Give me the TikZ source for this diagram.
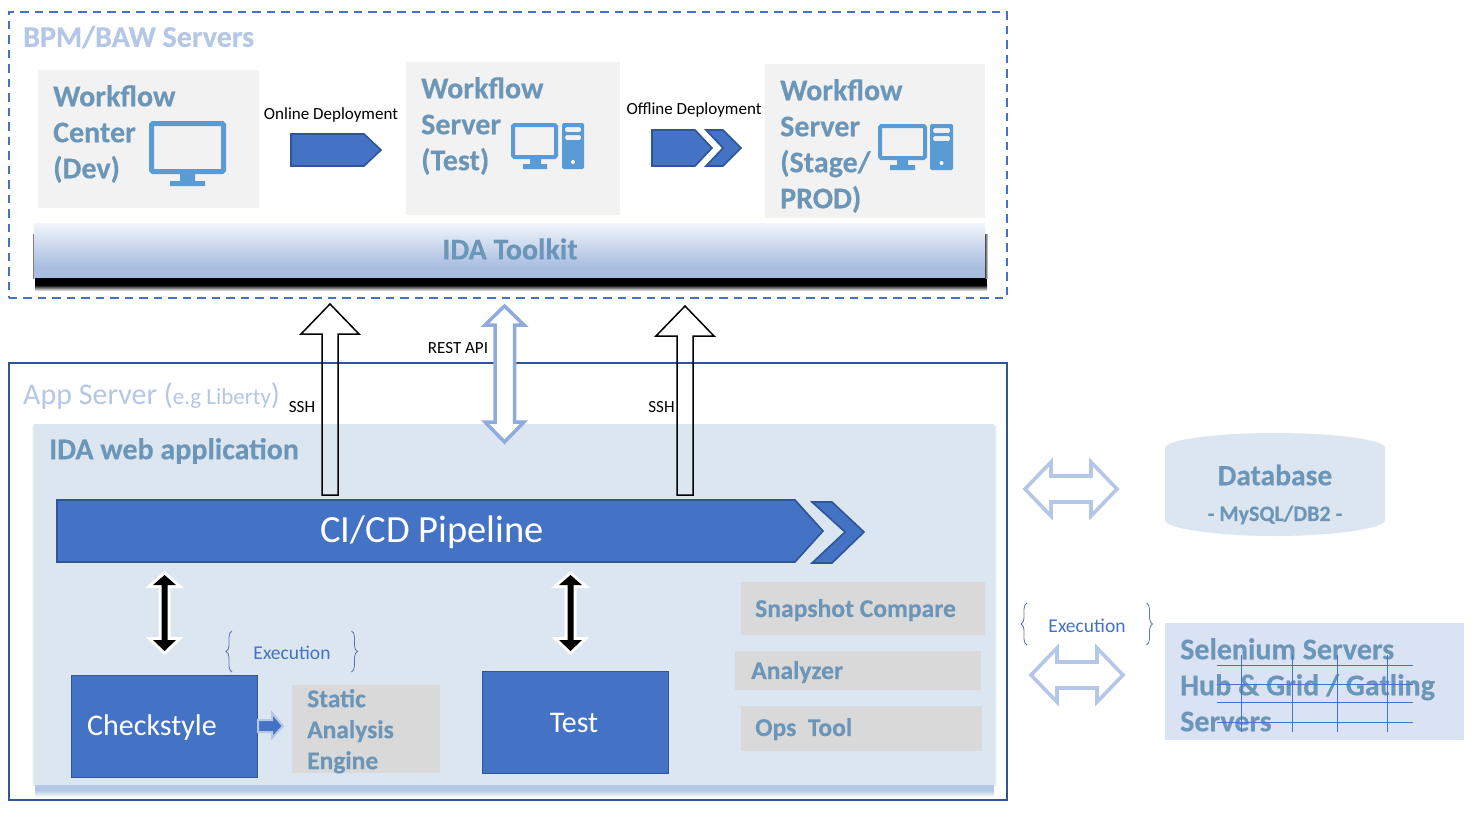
\documentclass[tikz,border=0pt]{standalone}
\usepackage{fontspec}
\setmainfont{Carlito}[BoldFeatures={FakeBold=0.4}]
\usetikzlibrary{decorations.pathreplacing,calc}
\definecolor{blueA}{HTML}{4472C4}
\definecolor{blueD}{HTML}{2F5597}
\definecolor{blueL}{HTML}{B4C7E7}
\definecolor{blueM}{HTML}{8FAADC}
\definecolor{panel}{HTML}{DCE6F1}
\definecolor{panelB}{HTML}{DAE3F3}
\definecolor{slate}{HTML}{6C96B8}
\definecolor{icon}{HTML}{5B9BD5}
\definecolor{pale}{HTML}{F2F2F2}
\definecolor{midgrey}{HTML}{D9D9D9}
\definecolor{barTop}{HTML}{F2F5FB}
\definecolor{barBot}{HTML}{A8BDE0}
\newcommand{\fs}[2]{\fontsize{#1}{#2}\selectfont}
\tikzset{
  x=1pt,y=-1pt,
  lab/.style={inner sep=0pt,text=slate,font=\bfseries\fs{30}{36},align=left},
  small/.style={inner sep=0pt,text=black,font=\fs{17}{19}},
  paleBox/.style={fill=pale,draw=none},
  greyBox/.style={fill=midgrey,draw=none},
  solidBlue/.style={fill=blueA,draw=blueD,line width=1.6pt},
  hollowUp/.style={fill=none,draw=black,line width=1.5pt,line join=miter},
  hollowB/.style={fill=white,draw=blueM,line width=3.5pt,line join=miter},
  hollowH/.style={fill=none,draw=blueL,line width=3.6pt,line join=miter},
  blackDbl/.style={fill=black,draw=none,preaction={draw=white,line width=6pt,line join=miter}},
  iconLine/.style={draw=icon,line width=5pt,rounded corners=1.5pt},
  iconFill/.style={fill=icon,draw=none},
  bracePath/.style={draw=blueD!80,line width=0.8pt,decorate,decoration={brace,amplitude=6pt}},
  exec/.style={inner sep=0pt,text=blueA,font=\fs{19.5}{21}}
}
\begin{document}
\begin{tikzpicture}
\useasboundingbox (0,0) rectangle (1472,812);
\fill[white] (0,0) rectangle (1472,812);

% outer boxes
\node[draw=blueA,line width=1.6pt,dash pattern=on 8.5pt off 6pt,minimum width=998pt,minimum height=286pt,inner sep=0pt,anchor=north west] (bpm) at (8,11) {};
\node[anchor=west,inner sep=0pt,text=blueL,font=\bfseries\fs{30}{32}] (bpmT) at (23,37) {BPM/BAW Servers};

% workflow boxes
\node[paleBox,minimum width=221pt,minimum height=138pt,inner sep=0pt,anchor=north west] (wc) at (38,70) {};
\node[paleBox,minimum width=214pt,minimum height=153pt,inner sep=0pt,anchor=north west] (wt) at (406,62) {};
\node[paleBox,minimum width=220pt,minimum height=154pt,inner sep=0pt,anchor=north west] (ws) at (765,64) {};
\node[lab,anchor=north west] (wcT) at (53,85) {Workflow\\Center\\(Dev)};
\node[lab,anchor=north west] (wtT) at (421,77) {Workflow\\Server\\(Test)};
\node[lab,anchor=north west] (wsT) at (780,79) {Workflow\\Server\\(Stage/\\PROD)};

% icons
\draw[iconLine] (151.5,123.5) rectangle (223.5,171.5);
\fill[iconFill] (180,174) rectangle (195,181) (170,181) rectangle (205,186);
\draw[iconLine,line width=4pt] (513,125) rectangle (556,157);
\fill[iconFill] (530,159) rectangle (541,164) (523,164) rectangle (547,169);
\fill[iconFill,rounded corners=1.5pt,even odd rule] (562,123) rectangle (584,169)
  (565,127) rectangle (581,132) (565,135) rectangle (581,140);
\fill[white] (573,162) circle (2pt);
\draw[iconLine,line width=4pt] (880,126) rectangle (925,158);
\fill[iconFill] (897,160) rectangle (908,165) (890,165) rectangle (915,170);
\fill[iconFill,rounded corners=1.5pt,even odd rule] (930,124) rectangle (953,170)
  (933,128) rectangle (950,133) (933,136) rectangle (950,141);
\fill[white] (941.5,163) circle (2pt);

% deployment arrows
\node[small] (onl) at (331,115) {Online Deployment};
\node[small] (ofl) at (694,110) {Offline Deployment};
\draw[solidBlue] (291,134) -- (364,134) -- (381,150) -- (364,166) -- (291,166) -- cycle;
\draw[solidBlue] (652,130) -- (695,130) -- (712,148) -- (695,166) -- (652,166) -- cycle;
\draw[solidBlue] (706,130) -- (723,130) -- (741,148) -- (723,166) -- (706,166) -- (723,148) -- cycle;

% toolkit bar
\fill[black] (35,278) rectangle (987,285);
\shade[top color=black,bottom color=white] (35,285) rectangle (987,291);
\shade[left color=white,right color=black] (32,234) rectangle (34,278);
\shade[left color=black!75,right color=white] (985,234) rectangle (988,278);
\node[minimum width=951pt,minimum height=55pt,inner sep=0pt,anchor=north west] (ida) at (34,223) {};
\shade[top color=barTop,bottom color=barBot] (34,223) rectangle (985,267);
\fill[barBot] (34,267) rectangle (985,278);
\node[text=slate,font=\bfseries\fs{30}{32},inner sep=0pt] (idaT) at (510,249) {IDA Toolkit};

% panel
\shade[left color=white,right color=panel] (31,426) rectangle (34,785);
\shade[left color=panel,right color=white] (994,426) rectangle (997,785);
\fill[blueL] (35,785) rectangle (994,790);
\shade[top color=blueL,bottom color=white] (35,790) rectangle (994,797);
\fill[panel] (34,424) rectangle (994,785);
\node[minimum width=960pt,minimum height=361pt,inner sep=0pt,anchor=north west] (web) at (34,424) {};

% app box and title
\node[draw=blueD,line width=1.6pt,minimum width=998pt,minimum height=437pt,inner sep=0pt,anchor=north west] (app) at (8,362) {};
\node[anchor=west,inner sep=0pt,text=blueL,font=\fs{30}{32}] (appT) at (23,396) {App Server ({\fs{23}{25}e.g Liberty})};
\node[anchor=west,inner sep=0pt,text=slate,font=\bfseries\fs{30}{32}] (webT) at (49,451) {IDA web application};

% pipeline
\node[minimum width=738pt,minimum height=62pt,inner sep=0pt,anchor=north west] (pipeBox) at (57,500) {};
\draw[solidBlue] (57,500) -- (795,500) -- (823,531) -- (795,562) -- (57,562) -- cycle;
\draw[solidBlue] (812,502) -- (832,502) -- (864,532) -- (832,563) -- (812,563) -- (845,532) -- cycle;
\node[text=white,font=\fs{38.5}{40},inner sep=0pt] (pipeT) at (432,532) {CI/CD Pipeline};

% hollow arrows up
\draw[hollowUp] (322,495) -- (322,334) -- (301,334) -- (330,304) -- (359,334) -- (338,334) -- (338,495) -- cycle;
\draw[hollowUp] (677,495) -- (677,336) -- (656,336) -- (685,306) -- (714,336) -- (693,336) -- (693,495) -- cycle;
\draw[hollowB] (495,325) -- (485,325) -- (504.5,306) -- (524,325) -- (514.5,325) -- (514.5,422) -- (524,422) -- (504.5,442) -- (485,422) -- (495,422) -- cycle;
\node[small] (ssh1) at (302,407) {SSH};
\node[small] (ssh2) at (661.5,407) {SSH};
\node[small] (rest) at (458,348) {REST API};

% black double arrows
\draw[blackDbl] (161.5,585) -- (153,585) -- (164.5,575) -- (176,585) -- (167.5,585) -- (167.5,640) -- (176,640) -- (164.5,651) -- (153,640) -- (161.5,640) -- cycle;
\draw[blackDbl] (567.5,585) -- (559,585) -- (570.5,575) -- (582,585) -- (573.5,585) -- (573.5,640) -- (582,640) -- (570.5,651) -- (559,640) -- (567.5,640) -- cycle;

% bottom boxes
\node[solidBlue,minimum width=186pt,minimum height=102pt,inner sep=0pt,anchor=north west] (chk) at (70.5,674.5) {};
\node[text=white,font=\fs{30}{32},inner sep=0pt,anchor=west] (chkT) at (87,727) {Checkstyle};
\node[solidBlue,minimum width=186pt,minimum height=102pt,inner sep=0pt,anchor=north west] (tst) at (481.5,670.5) {};
\node[text=white,font=\fs{30}{32},inner sep=0pt] (tstT) at (574,723) {Test};
\node[greyBox,minimum width=148pt,minimum height=88pt,inner sep=0pt,anchor=north west] (sae) at (292,685) {};
\node[lab,font=\bfseries\fs{25.5}{31},anchor=north west] (saeT) at (307,689) {Static\\Analysis\\Engine};
\draw[fill=blueA,draw=blueL,line width=2pt,line join=miter] (chk.east |- 0,720) -- (272,720) -- (272,713) -- (283,726) -- (272,738) -- (272,732) -- (chk.east |- 0,732) -- cycle;

\node[greyBox,minimum width=244pt,minimum height=53pt,inner sep=0pt,anchor=north west] (snp) at (741,582) {};
\node[greyBox,minimum width=246pt,minimum height=39pt,inner sep=0pt,anchor=north west] (anl) at (735,651) {};
\node[greyBox,minimum width=241pt,minimum height=45pt,inner sep=0pt,anchor=north west] (ops) at (741,706) {};
\node[lab,font=\bfseries\fs{25.6}{27},anchor=west] (snpT) at (755,610) {Snapshot Compare};
\node[lab,font=\bfseries\fs{25.6}{27},anchor=west] (anlT) at (751,672) {Analyzer};
\node[lab,font=\bfseries\fs{25.6}{27},anchor=west] (opsT) at (755,729) {Ops\ \ Tool};

% execution braces
\node[exec] (ex1) at (292,653) {Execution};
\coordinate (b1a) at (232,672); \coordinate (b1b) at (232,631);
\coordinate (b2a) at (351.5,631); \coordinate (b2b) at (351.5,672);
\draw[bracePath] (b1a) -- (b1b);
\draw[bracePath] (b2a) -- (b2b);
\node[exec] (ex2) at (1087,626) {Execution};
\coordinate (b3a) at (1027,645); \coordinate (b3b) at (1027,603);
\coordinate (b4a) at (1146.5,603); \coordinate (b4b) at (1146.5,645);
\draw[bracePath] (b3a) -- (b3b);
\draw[bracePath] (b4a) -- (b4b);

% right side
\draw[hollowH] (1025,489) -- (1051,462) -- (1051,476) -- (1091,476) -- (1091,462) -- (1117,489) -- (1091,516) -- (1091,502) -- (1051,502) -- (1051,516) -- cycle;
\draw[hollowH] (1031,675) -- (1057,648) -- (1057,662) -- (1097,662) -- (1097,648) -- (1123,675) -- (1097,702) -- (1097,688) -- (1057,688) -- (1057,702) -- cycle;

\fill[panel] (1165,448) .. controls (1165,439) and (1220,433) .. (1275,433) .. controls (1330,433) and (1385,439) .. (1385,448) -- (1385,520) .. controls (1385,529) and (1330,536) .. (1275,536) .. controls (1220,536) and (1165,529) .. (1165,520) -- cycle;
\node[text=slate,font=\bfseries\fs{29.5}{31},inner sep=0pt] (dbT) at (1275,475) {Database};
\node[text=slate,font=\bfseries\fs{22}{24},inner sep=0pt] (dbS) at (1275,515) {- MySQL/DB2 -};

\node[fill=panelB,minimum width=299pt,minimum height=117pt,inner sep=0pt,anchor=north west] (sel) at (1165,623) {};
\node[lab,anchor=north west] (selT) at (1180,638) {Selenium Servers\\Hub \& Grid / Gatling\\Servers};
\foreach \yy in {665.3,684.3,702.3,722.7} \draw[blueA,line width=0.9pt] (1217,\yy) -- (1413,\yy);
\foreach \xx in {1241,1292,1337,1387} \draw[blueA,line width=0.9pt] (\xx,655) -- (\xx,732);
\end{tikzpicture}
\end{document}
